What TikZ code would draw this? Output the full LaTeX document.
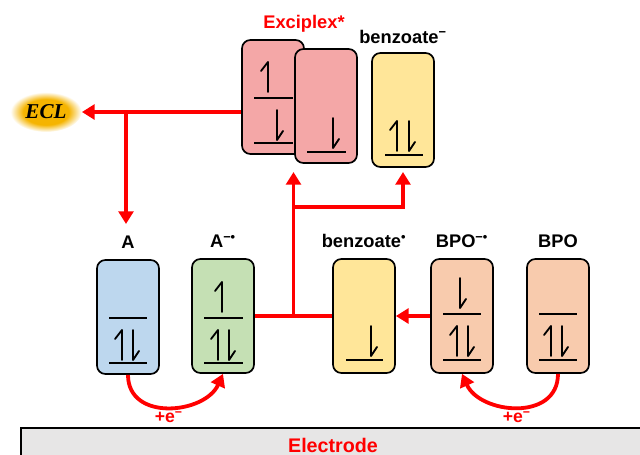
\documentclass[tikz,border=0pt]{standalone}
\usepackage{fontspec}
\setmainfont{Liberation Sans}
\newfontfamily\eclfont{Liberation Serif}
\usetikzlibrary{shapes.geometric, arrows.meta, positioning, calc}
\definecolor{excicolor}{HTML}{F4A7A7}
\definecolor{benzcolor}{HTML}{FFE699}
\definecolor{acolor}{HTML}{BDD7EE}
\definecolor{aradcolor}{HTML}{C5E0B4}
\definecolor{bpocolor}{HTML}{F8CBAD}
\definecolor{eclcolor}{HTML}{F5B400}
\definecolor{electrodecolor}{HTML}{E7E6E6}
\pgfdeclareradialshading{eclglow}{\pgfpoint{0bp}{0bp}}{color(0bp)=(eclcolor); color(16bp)=(eclcolor); color(25bp)=(white); color(50bp)=(white)}

\begin{document}
\begin{tikzpicture}[x=0.025cm, y=-0.025cm,
    orbital/.style={rectangle, rounded corners=6pt, draw=black, line width=1.2pt, fill=#1, minimum width=1.55cm, minimum height=2.85cm, inner sep=0pt},
    species/.style={font=\fontsize{13}{15}\selectfont\bfseries, inner sep=1pt},
    charge/.style={font=\fontsize{12.5}{14}\selectfont\bfseries, text=red, inner sep=1pt},
    level/.style={line width=1.3pt},
    spin/.style={line width=1.3pt, line cap=round, line join=round},
    arrow/.style={-{Triangle[length=9pt, width=10.5pt]}, line width=2.7pt, red},
    link/.style={line width=2.7pt, red},
    spinup/.pic={\draw[spin] (0,0) -- (0,-30) -- (-7,-21);},
    spindown/.pic={\draw[spin] (0,-30) -- (0,0) -- (6,-9);}
]
\useasboundingbox (0,0) rectangle (640,455);

\node[draw=black, line width=1.8pt, fill=electrodecolor, minimum width=15.6cm, minimum height=0.85cm, font=\fontsize{14}{16}\selectfont\bfseries, text=red] (electrode) at (333,445) {Electrode};

\node[orbital=acolor] (A) at (128,317) {};
\node[orbital=aradcolor] (Arad) at (223,316) {};
\node[orbital=benzcolor] (benzrad) at (364,316) {};
\node[orbital=bpocolor] (BPOrad) at (462,316) {};
\node[orbital=bpocolor] (BPO) at (558,316) {};
\node[orbital=excicolor] (exback) at (273,97) {};
\node[orbital=excicolor] (exfront) at (326,106) {};
\node[orbital=benzcolor] (benzanion) at (403,110) {};

\node[species, above=0.22cm of A] (labelA) {A};
\node[species, above=0.22cm of Arad] (labelArad) {A\textsuperscript{−•}};
\node[species, above=0.22cm of benzrad] (labelbenzrad) {benzoate\textsuperscript{•}};
\node[species, above=0.22cm of BPOrad] (labelBPOrad) {BPO\textsuperscript{−•}};
\node[species, above=0.22cm of BPO] (labelBPO) {BPO};
\node[species, text=red, anchor=base] (labelex) at (304,28) {Exciplex*};
\node[species, anchor=base] (labelbenzanion) at (403,43) {benzoate\textsuperscript{−}};

\node[ellipse, minimum width=1.65cm, minimum height=1cm, shading=eclglow, font=\eclfont\fontsize{15}{17}\selectfont\bfseries\itshape] (ECL) at (46,112) {ECL};

\draw[level] (109,318) -- (147,318);
\draw[level] (109,363) -- (147,363);
\pic at (122,360) {spinup};
\pic at (133,360) {spindown};

\draw[level] (204,318) -- (243,318);
\draw[level] (204,363) -- (243,363);
\pic at (222,312) {spinup};
\pic at (218,360) {spinup};
\pic at (229,360) {spindown};

\draw[level] (346,360) -- (383,360);
\pic at (371,356) {spindown};

\draw[level] (443,314) -- (481,314);
\draw[level] (443,360) -- (481,360);
\pic at (460,308) {spindown};
\pic at (457,356) {spinup};
\pic at (468,356) {spindown};

\draw[level] (539,314) -- (577,314);
\draw[level] (539,360) -- (577,360);
\pic at (551,356) {spinup};
\pic at (562,356) {spindown};

\draw[level] (254,98) -- (293,98);
\draw[level] (254,143) -- (293,143);
\pic at (268,92) {spinup};
\pic at (277,140) {spindown};

\draw[level] (307,152) -- (346,152);
\pic at (333,148) {spindown};

\draw[level] (385,155) -- (423,155);
\pic at (397,151) {spinup};
\pic at (409,151) {spindown};

\coordinate (Atarget) at (126,224);
\coordinate (tipline) at (0,172);
\coordinate (exsplit) at ($(Arad.east)!0.5!(benzrad.west)$);

\draw[arrow] (ECL -| exback.west) -- (ECL.east);
\draw[arrow] (ECL -| Atarget) -- (Atarget);
\draw[link] (Arad.east) -- (benzrad.west);
\draw[arrow] (exsplit) -- (exsplit |- tipline);
\draw[arrow] (exsplit |- 0,207) -| (benzanion |- tipline);
\draw[arrow] (BPOrad.west) -- (benzrad.east);

\draw[arrow] (A.south) .. controls (128,422) and (205,414) .. (Arad.south) node[charge, pos=0.5, below=1pt] (eA) {+e\textsuperscript{−}};
\draw[arrow] (BPO.south) .. controls (558,422) and (480,414) .. (BPOrad.south) node[charge, pos=0.5, below=1pt] (eBPO) {+e\textsuperscript{−}};
\end{tikzpicture}
\end{document}
